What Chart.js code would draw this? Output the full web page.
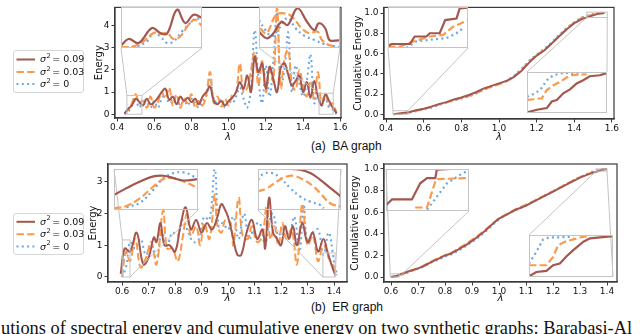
<!DOCTYPE html>
<html>
<head>
<meta charset="utf-8">
<script src="https://cdn.jsdelivr.net/npm/chart.js@4.4.0/dist/chart.umd.min.js"></script>
<style>
  body { margin: 0; background: #fff; }
  #stage { position: relative; width: 640px; height: 334px; overflow: hidden; background: #fff; }
  #stage canvas { position: absolute; }
  .cap { position: absolute; font-family: "Liberation Sans", Arial, sans-serif; font-size: 12px; line-height: 12px; white-space: nowrap; color: #111; }
  .para { position: absolute; left: 1px; top: 319px; font-family: "Liberation Serif", "Times New Roman", serif; font-size: 18.4px; line-height: 18.4px; white-space: nowrap; color: #111; }
</style>
</head>
<body>
<div id="stage">
  <div class="cap" style="left:311px; top:140px;">(a)&nbsp;&nbsp;BA graph</div>
  <div class="cap" style="left:311px; top:301px;">(b)&nbsp;&nbsp;ER graph</div>
  <div class="para">utions of spectral energy and cumulative energy on two synthetic graphs: Barabasi-Al</div>
</div>
<script>
// ---- legend values (sigma^2) ----
const sigmaValues = ['0.09', '0.03', '0'];

// ---- BA graph: spectral energy ----
const lambdaBA = [0.44, 0.46, 0.48, 0.50, 0.52, 0.54, 0.56, 0.58, 0.60, 0.62, 0.64, 0.66, 0.68, 0.70, 0.72, 0.74, 0.76, 0.78, 0.80, 0.82,
  0.84, 0.86, 0.88, 0.90, 0.92, 0.94, 0.96, 0.98, 1.00, 1.02, 1.04, 1.06, 1.08, 1.10, 1.12, 1.14, 1.16, 1.18, 1.20, 1.22,
  1.24, 1.26, 1.28, 1.30, 1.32, 1.34, 1.36, 1.38, 1.40, 1.42, 1.44, 1.46, 1.48, 1.50, 1.52, 1.54, 1.56, 1.58];
const energyBA09 = [0.03, 0.25, 0.4, 0.7, 0.55, 0.4, 0.7, 0.45, 0.55, 0.75, 1.0, 1.15, 0.65, 0.8, 0.45, 0.8, 0.6, 0.75, 0.55, 0.7,
  0.45, 0.8, 1.0, 1.25, 0.6, 0.45, 0.6, 0.4, 0.6, 0.75, 1.0, 1.45, 1.15, 1.75, 1.0, 2.6, 1.9, 2.3, 1.15, 2.15,
  1.6, 1.0, 2.1, 2.3, 1.8, 1.3, 1.5, 1.75, 1.0, 1.45, 0.75, 1.5, 0.8, 0.4, 0.9, 0.6, 0.3, 0.05];
const energyBA03 = [0.05, 0.2, 0.5, 0.9, 0.5, 0.6, 0.3, 0.8, 0.3, 0.55, 1.0, 0.7, 1.2, 0.4, 0.9, 0.3, 0.7, 0.5, 0.9, 0.3,
  0.6, 0.4, 0.9, 1.9, 0.5, 0.8, 0.35, 0.7, 0.4, 0.9, 1.0, 2.3, 1.0, 1.2, 2.0, 2.8, 1.3, 2.4, 1.0, 2.0,
  1.5, 4.8, 1.2, 2.5, 2.9, 1.4, 1.1, 2.0, 1.3, 0.8, 1.5, 0.7, 1.9, 0.5, 0.9, 0.4, 0.5, 0.05];
const energyBA0 = [0.0, 0.1, 0.4, 0.6, 0.3, 0.7, 0.5, 0.3, 0.6, 0.3, 0.7, 0.9, 0.5, 0.6, 0.8, 0.4, 0.6, 0.4, 0.7, 0.5,
  0.3, 0.6, 0.8, 1.6, 0.7, 0.5, 0.7, 0.3, 0.6, 0.5, 0.8, 1.2, 0.7, 0.3, 1.2, 3.8, 1.6, 0.5, 2.2, 0.8,
  2.4, 4.6, 1.3, 2.0, 3.7, 1.0, 2.2, 1.4, 0.8, 1.5, 2.7, 0.5, 1.0, 0.4, 0.7, 0.3, 0.2, 0.0];

// ---- BA graph: cumulative energy ----
const lambdaBAcum = [0.44, 0.48, 0.52, 0.56, 0.60, 0.64, 0.68, 0.72, 0.76, 0.80, 0.84, 0.88, 0.92, 0.96, 1.00,
  1.04, 1.08, 1.12, 1.16, 1.20, 1.24, 1.28, 1.32, 1.36, 1.40, 1.44, 1.48, 1.52, 1.56];
const cumBA09 = [0, 0.01, 0.02, 0.04, 0.055, 0.075, 0.10, 0.12, 0.145, 0.165, 0.19, 0.22, 0.255, 0.28, 0.305,
  0.33, 0.37, 0.43, 0.51, 0.58, 0.63, 0.70, 0.77, 0.84, 0.90, 0.94, 0.965, 0.99, 1.0];
const cumBA03 = [0, 0.008, 0.018, 0.035, 0.05, 0.07, 0.095, 0.115, 0.14, 0.16, 0.18, 0.21, 0.245, 0.27, 0.295,
  0.325, 0.37, 0.44, 0.52, 0.585, 0.635, 0.70, 0.775, 0.845, 0.905, 0.955, 0.975, 1.0, 1.0];
const cumBA0 = [0, 0.005, 0.015, 0.03, 0.05, 0.065, 0.09, 0.115, 0.135, 0.155, 0.175, 0.205, 0.24, 0.27, 0.30,
  0.33, 0.38, 0.45, 0.53, 0.59, 0.645, 0.71, 0.785, 0.855, 0.91, 0.96, 0.98, 1.0, 1.0];

// ---- ER graph: spectral energy ----
const lambdaER09 = [0.595, 0.61, 0.63, 0.655, 0.68, 0.70, 0.72, 0.73, 0.745, 0.76, 0.78, 0.80, 0.82, 0.84, 0.86, 0.88,
  0.90, 0.92, 0.94, 0.96, 0.975, 0.99, 1.00, 1.02, 1.035, 1.05, 1.07, 1.09, 1.11, 1.13, 1.14, 1.155,
  1.17, 1.185, 1.20, 1.215, 1.23, 1.245, 1.26, 1.28, 1.30, 1.32, 1.34, 1.36, 1.375, 1.39, 1.405];
const energyER09 = [0.1, 0.9, 0.8, 1.4, 0.4, 0.6, 1.25, 1.1, 1.7, 1.0, 1.0, 0.8, 1.6, 2.2, 1.5, 1.8,
  1.4, 1.7, 1.5, 1.9, 2.3, 2.1, 1.9, 1.2, 0.7, 0.7, 1.4, 1.8, 1.2, 1.5, 0.9, 2.5,
  1.4, 1.2, 1.0, 1.6, 1.2, 1.6, 1.0, 1.7, 1.1, 1.4, 0.8, 1.2, 0.8, 0.4, 0.05];
const lambdaER03 = [0.60, 0.615, 0.63, 0.65, 0.67, 0.69, 0.71, 0.73, 0.755, 0.77, 0.79, 0.81, 0.83, 0.845, 0.86, 0.88,
  0.895, 0.91, 0.93, 0.95, 0.96, 0.975, 0.99, 1.01, 1.02, 1.04, 1.055, 1.075, 1.09, 1.11, 1.13, 1.145,
  1.16, 1.175, 1.19, 1.205, 1.22, 1.24, 1.26, 1.28, 1.30, 1.32, 1.34, 1.36, 1.38, 1.40, 1.41];
const energyER03 = [0.0, 0.8, 0.5, 1.2, 0.3, 0.6, 1.1, 0.4, 2.1, 0.9, 0.9, 0.5, 1.3, 2.0, 1.3, 1.6,
  1.0, 1.7, 1.2, 2.6, 1.6, 1.4, 1.8, 1.7, 1.0, 2.5, 1.3, 1.2, 1.6, 1.1, 1.3, 2.2,
  1.2, 1.6, 1.0, 1.7, 1.2, 1.5, 0.4, 2.3, 1.0, 1.3, 0.5, 1.0, 0.6, 0.3, 0.05];
const lambdaER0 = [0.60, 0.615, 0.63, 0.65, 0.67, 0.69, 0.71, 0.73, 0.75, 0.77, 0.79, 0.81, 0.83, 0.85, 0.87, 0.89,
  0.91, 0.93, 0.95, 0.965, 0.98, 1.00, 1.02, 1.04, 1.06, 1.08, 1.10, 1.12, 1.14, 1.155, 1.17, 1.19,
  1.21, 1.23, 1.25, 1.27, 1.285, 1.30, 1.32, 1.34, 1.36, 1.38, 1.40, 1.41];
const energyER0 = [0.0, 0.3, 1.1, 0.9, 1.2, 0.7, 1.0, 0.6, 1.4, 1.0, 1.4, 1.3, 1.8, 1.4, 1.1, 1.2,
  1.9, 1.8, 3.4, 1.6, 1.7, 1.5, 1.9, 1.2, 2.0, 1.2, 1.6, 1.7, 1.0, 1.7, 2.0, 1.3,
  1.6, 1.3, 1.9, 0.8, 2.3, 1.1, 1.4, 1.5, 0.7, 1.4, 0.5, 0.1];

// ---- ER graph: cumulative energy ----
const lambdaERcum = [0.60, 0.62, 0.65, 0.68, 0.70, 0.72, 0.75, 0.78, 0.80, 0.82, 0.85, 0.88, 0.90, 0.92, 0.95,
  0.98, 1.00, 1.03, 1.06, 1.10, 1.13, 1.16, 1.20, 1.23, 1.26, 1.30, 1.33, 1.36, 1.38, 1.40];
const cumER09 = [0, 0.01, 0.04, 0.065, 0.08, 0.10, 0.14, 0.175, 0.20, 0.215, 0.255, 0.30, 0.335, 0.37, 0.43,
  0.50, 0.54, 0.58, 0.62, 0.66, 0.70, 0.74, 0.79, 0.83, 0.87, 0.92, 0.95, 0.975, 0.99, 1.0];
const cumER03 = [0, 0.008, 0.035, 0.06, 0.08, 0.105, 0.145, 0.18, 0.20, 0.22, 0.265, 0.31, 0.345, 0.38, 0.44,
  0.50, 0.545, 0.585, 0.625, 0.67, 0.705, 0.745, 0.795, 0.835, 0.875, 0.925, 0.955, 0.98, 0.995, 1.0];
const cumER0 = [0, 0.005, 0.03, 0.06, 0.075, 0.095, 0.135, 0.165, 0.19, 0.205, 0.245, 0.29, 0.325, 0.36, 0.42,
  0.49, 0.535, 0.58, 0.62, 0.66, 0.70, 0.74, 0.79, 0.835, 0.875, 0.925, 0.96, 0.99, 1.0, 1.0];

// ---- zoomed insets: [lambda, value] ----
const baLow09 = [[0.453, 0.048], [0.4606, 0.187], [0.4706, 0.104], [0.484, 0.415], [0.4923, 0.311], [0.499, 0.296], [0.509, 0.794], [0.5173, 0.518], [0.5256, 0.69], [0.534, 0.622]];
const baLow03 = [[0.453, 0.013], [0.4656, 0.034], [0.4756, 0.137], [0.4856, 0.311], [0.4923, 0.29], [0.499, 0.311], [0.5056, 0.187], [0.5123, 0.24], [0.5206, 0.483], [0.5273, 0.587], [0.534, 0.448]];
const baLow0 = [[0.459, 0], [0.469, 0.034], [0.479, 0.137], [0.4856, 0.311], [0.4923, 0.24], [0.499, 0.104], [0.5056, 0.137], [0.514, 0.344], [0.5223, 0.518], [0.529, 0.622], [0.532, 0.552]];
const baHigh09 = [[1.486, 0.378], [1.493, 0.225], [1.499, 0.324], [1.507, 0.609], [1.513, 0.533], [1.522, 0.92], [1.531, 0.609], [1.538, 0.417], [1.542, 0.572], [1.548, 0.463], [1.552, 0.185], [1.557, 0.169], [1.562, 0.185]];
const baHigh03 = [[1.487, 0.456], [1.493, 0.341], [1.502, 0.765], [1.51, 0.804], [1.517, 0.725], [1.526, 0.456], [1.533, 0.341], [1.541, 0.378], [1.545, 0.185], [1.552, 0.07], [1.558, 0.03]];
const baHigh0 = [[1.486, 0.649], [1.492, 0.417], [1.498, 0.278], [1.505, 0.463], [1.513, 0.695], [1.52, 0.463], [1.529, 0.278], [1.538, 0.185], [1.547, 0.093], [1.556, 0.046], [1.561, 0.023]];

const baCumLow09 = [[0.4368, 0.0013], [0.4402, 0.0034], [0.4585, 0.0034], [0.4634, 0.0098], [0.475, 0.0098], [0.4784, 0.0126], [0.4883, 0.0126], [0.4938, 0.0238], [0.505, 0.0252], [0.5082, 0.0337], [0.5165, 0.0345]];
const baCumLow03 = [[0.4368, 0.0008], [0.4488, 0.0013], [0.462, 0.0055], [0.4784, 0.0098], [0.4917, 0.0112], [0.5016, 0.0181], [0.5165, 0.0238]];
const baCumLow0 = [[0.4551, 0], [0.4651, 0.0056], [0.4784, 0.007], [0.4949, 0.0084], [0.505, 0.0126], [0.5115, 0.0168]];
const baCumHigh09 = [[1.466, 0.9568], [1.4796, 0.9602], [1.4931, 0.9624], [1.4999, 0.9708], [1.5067, 0.9729], [1.5156, 0.9815], [1.5248, 0.9866], [1.5339, 0.9942], [1.5428, 0.9984], [1.5519, 1.0035], [1.5655, 1.0048], [1.5754, 1.0077]];
const baCumHigh03 = [[1.466, 0.973], [1.4749, 0.9738], [1.4863, 0.9751], [1.4931, 0.9857], [1.5021, 0.992], [1.5111, 0.9963], [1.5248, 1.0048], [1.5475, 1.0061]];
const baCumHigh0 = [[1.466, 0.9771], [1.4749, 0.9806], [1.484, 0.9857], [1.4931, 0.9984], [1.5021, 1.0048], [1.5156, 1.0078], [1.5383, 1.0078]];

const erLow09 = [[0.601, 0.431], [0.6053, 0.624], [0.61, 0.814], [0.6146, 0.958], [0.6181, 0.978], [0.6216, 0.911], [0.625, 0.842], [0.63, 0.882]];
const erLow03 = [[0.601, 0.049], [0.6053, 0.115], [0.61, 0.336], [0.6146, 0.671], [0.6181, 0.882], [0.6216, 0.911], [0.625, 0.816], [0.63, 0.624]];
const erLow0 = [[0.6053, 0.077], [0.61, 0.21], [0.6146, 0.575], [0.6181, 0.911], [0.6216, 1.055], [0.625, 1.072], [0.6285, 0.958], [0.63, 0.863]];
const erHigh09 = [[1.3676, 0.93], [1.374, 0.779], [1.3814, 0.747], [1.387, 0.685], [1.3925, 0.56], [1.398, 0.411], [1.404, 0.248]];
const erHigh03 = [[1.358, 0.342], [1.363, 0.405], [1.3685, 0.528], [1.374, 0.622], [1.3777, 0.635], [1.3833, 0.56], [1.3888, 0.435], [1.3925, 0.312], [1.398, 0.125], [1.404, 0.062]];
const erHigh0 = [[1.358, 0.56], [1.3611, 0.672], [1.3658, 0.685], [1.3704, 0.592], [1.3759, 0.405], [1.3814, 0.248], [1.387, 0.155], [1.3925, 0.093], [1.3944, 0.032]];

const erCumLow09 = [[0.597, 0.0041], [0.5994, 0.0083], [0.6073, 0.0083], [0.6106, 0.0198], [0.6133, 0.0235], [0.6166, 0.0235], [0.6172, 0.0295], [0.63, 0.0307]];
const erCumLow03 = [[0.6086, 0.0025], [0.6133, 0.0025], [0.6166, 0.0211], [0.6172, 0.0228], [0.63, 0.0235]];
const erCumLow0 = [[0.6133, 0.001], [0.6172, 0.0101], [0.6212, 0.0198], [0.6265, 0.0258], [0.6297, 0.029]];
const erCumHigh09 = [[1.36, 0.9803], [1.3635, 0.9824], [1.3683, 0.9829], [1.3715, 0.9856], [1.3747, 0.9864], [1.3779, 0.9899], [1.3811, 0.9928], [1.3859, 0.9968], [1.3891, 0.9984], [1.4, 0.9995]];
const erCumHigh03 = [[1.36, 0.9856], [1.3683, 0.9856], [1.3715, 0.9896], [1.3739, 0.9952], [1.3771, 0.9968], [1.3811, 0.9979], [1.3859, 0.9992], [1.3891, 0.9995]];
const erCumHigh0 = [[1.36, 0.9864], [1.3635, 0.992], [1.3667, 0.9979], [1.3699, 0.9989], [1.3747, 0.9989], [1.3811, 0.9992]];

// ---- tick labels ----
const ticksLambdaBA = [0.4, 0.6, 0.8, 1.0, 1.2, 1.4, 1.6];
const ticksLambdaER = [0.6, 0.7, 0.8, 0.9, 1.0, 1.1, 1.2, 1.3, 1.4];
const ticksEnergyBA = [0, 1, 2, 3, 4];
const ticksEnergyER = [0, 1, 2, 3];
const ticksCum = [0.0, 0.2, 0.4, 0.6, 0.8, 1.0];

// ---- styling ----
const lineStyles = [
  { color: '#a3574e', dash: [] },
  { color: '#fa9a4c', dash: [7.4, 3.2] },
  { color: '#6aa8e4', dash: [2, 3.3] }
];
const axisColor = '#3a3a3a';
const textColor = '#111';
const insetGray = '#c4c4c4';

function makeCanvas(box) {
  const c = document.createElement('canvas');
  c.width = box[2];
  c.height = box[3];
  c.style.left = box[0] + 'px';
  c.style.top = box[1] + 'px';
  c.style.width = box[2] + 'px';
  c.style.height = box[3] + 'px';
  document.getElementById('stage').appendChild(c);
  return c;
}

function dataset(points, i, lw, tension) {
  return {
    data: points,
    borderColor: lineStyles[i].color,
    borderDash: lineStyles[i].dash,
    borderWidth: lw,
    pointRadius: 0,
    tension: tension,
    fill: false
  };
}

function zipXY(xs, ys) {
  return xs.map((x, k) => ({ x: x, y: ys[k] }));
}

function pairsXY(pairs) {
  return pairs.map(p => ({ x: p[0], y: p[1] }));
}

function corner(r, c) {
  return { x: c[1] === 'l' ? r.l : r.r, y: c[0] === 't' ? r.t : r.b };
}

// frame + inset markers + connector lines on the main axes
const frameBox = {
  id: 'frameBox',
  afterDatasetsDraw(chart, args, opts) {
    const ctx = chart.ctx;
    const a = chart.chartArea;
    const sx = chart.scales.x, sy = chart.scales.y;
    ctx.save();
    ctx.setLineDash([]);
    (opts.insets || []).forEach(ins => {
      const src = {
        l: sx.getPixelForValue(ins.src[0]), r: sx.getPixelForValue(ins.src[1]),
        t: sy.getPixelForValue(ins.src[3]), b: sy.getPixelForValue(ins.src[2])
      };
      const box = {
        l: ins.rect[0] - opts.ox, t: ins.rect[1] - opts.oy,
        r: ins.rect[0] + ins.rect[2] - opts.ox, b: ins.rect[1] + ins.rect[3] - opts.oy
      };
      ctx.strokeStyle = insetGray;
      ctx.lineWidth = 1;
      ctx.strokeRect(src.l, src.t, src.r - src.l, src.b - src.t);
      ins.links.forEach(pair => {
        const p = corner(box, pair[0]), q = corner(src, pair[1]);
        ctx.beginPath();
        ctx.moveTo(p.x, p.y);
        ctx.lineTo(q.x, q.y);
        ctx.stroke();
      });
    });
    ctx.strokeStyle = axisColor;
    ctx.lineWidth = 1.2;
    ctx.strokeRect(a.left, a.top, a.right - a.left, a.bottom - a.top);
    ctx.restore();
  }
};

// legend box drawn at the left of the energy panels
const sideLegend = {
  id: 'sideLegend',
  afterDraw(chart, args, opts) {
    if (!opts.box) return;
    const ctx = chart.ctx;
    const b = opts.box;
    ctx.save();
    ctx.fillStyle = 'rgba(255,255,255,0.85)';
    ctx.strokeStyle = '#d6d6d6';
    ctx.lineWidth = 1;
    ctx.beginPath();
    ctx.roundRect(b[0] + 0.5, b[1] + 0.5, b[2], b[3], 2.5);
    ctx.fill();
    ctx.stroke();
    chart.data.datasets.forEach((ds, i) => {
      const y = b[1] + opts.rows[i];
      ctx.strokeStyle = ds.borderColor;
      ctx.lineWidth = ds.borderWidth;
      ctx.setLineDash(ds.borderDash);
      ctx.beginPath();
      ctx.moveTo(b[0] + 3.5, y);
      ctx.lineTo(b[0] + 22, y);
      ctx.stroke();
      ctx.setLineDash([]);
      ctx.fillStyle = textColor;
      ctx.textBaseline = 'middle';
      let x = b[0] + 27;
      ctx.font = 'italic 9.5px "DejaVu Sans"';
      ctx.fillText('σ', x, y + 0.5);
      x += ctx.measureText('σ').width + 0.5;
      ctx.font = '6.5px "DejaVu Sans"';
      ctx.fillText('2', x, y - 3);
      x += ctx.measureText('2').width + 1.5;
      ctx.font = '9.5px "DejaVu Sans"';
      ctx.fillText('= ' + sigmaValues[i], x, y + 0.5);
    });
    ctx.restore();
  }
};

const insetFrame = {
  id: 'insetFrame',
  afterDatasetsDraw(chart) {
    const ctx = chart.ctx;
    ctx.save();
    ctx.setLineDash([]);
    ctx.strokeStyle = insetGray;
    ctx.lineWidth = 1;
    ctx.strokeRect(0.5, 0.5, chart.width - 1, chart.height - 1);
    ctx.restore();
  }
};

function mainChart(p) {
  const canvas = makeCanvas(p.box);
  const yLeft = p.yTitleX - 6;
  const tickFont = { family: 'DejaVu Sans', size: 9 };
  new Chart(canvas, {
    type: 'line',
    data: { datasets: p.series.map((pts, i) => dataset(pts, i, 2, p.tension)) },
    options: {
      responsive: false,
      animation: false,
      events: [],
      layout: { padding: { left: yLeft - p.box[0], top: p.frame[1] - p.box[1], right: p.box[0] + p.box[2] - p.frame[2], bottom: 0 } },
      plugins: {
        legend: { display: false },
        tooltip: { enabled: false },
        frameBox: { insets: p.insets, ox: p.box[0], oy: p.box[1] },
        sideLegend: p.legend || {}
      },
      scales: {
        x: {
          type: 'linear', min: p.xlim[0], max: p.xlim[1],
          afterBuildTicks: s => { s.ticks = p.xTicks.map(v => ({ value: v })); },
          afterFit: s => { s.height = p.box[1] + p.box[3] - p.frame[3]; },
          ticks: { font: tickFont, color: textColor, padding: 1, autoSkip: false, maxRotation: 0, callback: v => v.toFixed(1) },
          grid: { drawOnChartArea: false, tickLength: 3.5, color: axisColor, lineWidth: 1 },
          border: { color: axisColor, width: 1.2 },
          title: { display: true, text: 'λ', color: textColor, padding: 0, font: { family: 'DejaVu Sans', size: 10, style: 'italic' } }
        },
        y: {
          type: 'linear', min: p.ylim[0], max: p.ylim[1],
          afterBuildTicks: s => { s.ticks = p.yTicks.map(v => ({ value: v })); },
          afterFit: s => { s.width = p.frame[0] - yLeft; },
          ticks: { font: tickFont, color: textColor, padding: 2, autoSkip: false, callback: p.yFormat },
          grid: { drawOnChartArea: false, tickLength: 3.5, color: axisColor, lineWidth: 1 },
          border: { color: axisColor, width: 1.2 },
          title: { display: true, text: p.yTitle, color: textColor, padding: 0, font: { family: 'DejaVu Sans', size: 10 } }
        }
      }
    },
    plugins: [frameBox, sideLegend]
  });
  p.insets.forEach(ins => insetChart(ins, p.tension));
}

function insetChart(ins, tension) {
  const canvas = makeCanvas(ins.rect);
  new Chart(canvas, {
    type: 'line',
    data: { datasets: ins.series.map((pairs, i) => dataset(pairsXY(pairs), i, 2.2, tension)) },
    options: {
      responsive: false,
      animation: false,
      events: [],
      layout: { padding: 0 },
      plugins: { legend: { display: false }, tooltip: { enabled: false } },
      scales: {
        x: { type: 'linear', display: false, min: ins.src[0], max: ins.src[1] },
        y: { type: 'linear', display: false, min: ins.src[2], max: ins.src[3] }
      }
    },
    plugins: [insetFrame]
  });
}

const fmtInt = v => String(v);
const fmtOne = v => v.toFixed(1);

// (a) BA graph, energy
mainChart({
  box: [0, 0, 350, 143], frame: [115, 1, 341, 118], yTitleX: 99,
  xlim: [0.389, 1.604], ylim: [-0.17, 4.83], xTicks: ticksLambdaBA, yTicks: ticksEnergyBA,
  yTitle: 'Energy', yFormat: fmtInt, tension: 0.4,
  series: [zipXY(lambdaBA, energyBA09), zipXY(lambdaBA, energyBA03), zipXY(lambdaBA, energyBA0)],
  legend: { box: [13, 50, 70, 42], rows: [9.5, 22, 34] },
  insets: [
    { rect: [121, 7, 81, 41], src: [0.453, 0.534, 0, 0.85], links: [['bl', 'tl'], ['br', 'tr']], series: [baLow09, baLow03, baLow0] },
    { rect: [259, 7, 81, 41], src: [1.486, 1.562, 0, 0.95], links: [['bl', 'tl'], ['br', 'tr']], series: [baHigh09, baHigh03, baHigh0] }
  ]
});

// (a) BA graph, cumulative energy
mainChart({
  box: [350, 0, 290, 143], frame: [384, 1, 614, 119], yTitleX: 358,
  xlim: [0.389, 1.611], ylim: [-0.047, 1.056], xTicks: ticksLambdaBA, yTicks: ticksCum,
  yTitle: 'Cumulative Energy', yFormat: fmtOne, tension: 0,
  series: [zipXY(lambdaBAcum, cumBA09), zipXY(lambdaBAcum, cumBA03), zipXY(lambdaBAcum, cumBA0)],
  insets: [
    { rect: [388, 7, 80, 41], src: [0.4368, 0.5165, 0, 0.035], links: [['bl', 'tl'], ['br', 'tr']], series: [baCumLow09, baCumLow03, baCumLow0] },
    { rect: [527, 72, 80, 41], src: [1.466, 1.5754, 0.956, 1.009], links: [['tl', 'bl'], ['tr', 'br']], series: [baCumHigh09, baCumHigh03, baCumHigh0] }
  ]
});

// (b) ER graph, energy
mainChart({
  box: [0, 150, 355, 154], frame: [108, 164, 347, 282], yTitleX: 93,
  xlim: [0.547, 1.449], ylim: [-0.158, 3.565], xTicks: ticksLambdaER, yTicks: ticksEnergyER,
  yTitle: 'Energy', yFormat: fmtInt, tension: 0.4,
  series: [zipXY(lambdaER09, energyER09), zipXY(lambdaER03, energyER03), zipXY(lambdaER0, energyER0)],
  legend: { box: [13, 63, 70, 41], rows: [8.8, 21.2, 33.6] },
  insets: [
    { rect: [114, 169, 84, 41], src: [0.601, 0.630, 0, 1.17], links: [['tl', 'tl'], ['br', 'br']], series: [erLow09, erLow03, erLow0] },
    { rect: [258, 169, 83, 41], src: [1.358, 1.404, 0, 0.76], links: [['bl', 'bl'], ['tr', 'br']], series: [erHigh09, erHigh03, erHigh0] }
  ]
});

// (b) ER graph, cumulative energy
mainChart({
  box: [350, 150, 290, 154], frame: [384, 164, 617, 282], yTitleX: 355,
  xlim: [0.574, 1.437], ylim: [-0.046, 1.046], xTicks: ticksLambdaER, yTicks: ticksCum,
  yTitle: 'Cumulative Energy', yFormat: fmtOne, tension: 0,
  series: [zipXY(lambdaERcum, cumER09), zipXY(lambdaERcum, cumER03), zipXY(lambdaERcum, cumER0)],
  insets: [
    { rect: [386, 169, 83, 42], src: [0.597, 0.630, 0, 0.03], links: [['tl', 'tl'], ['br', 'br']], series: [erCumLow09, erCumLow03, erCumLow0] },
    { rect: [529, 235, 84, 42], src: [1.36, 1.40, 0.98, 1.0], links: [['tl', 'bl'], ['br', 'br']], series: [erCumHigh09, erCumHigh03, erCumHigh0] }
  ]
});
</script>
</body>
</html>
